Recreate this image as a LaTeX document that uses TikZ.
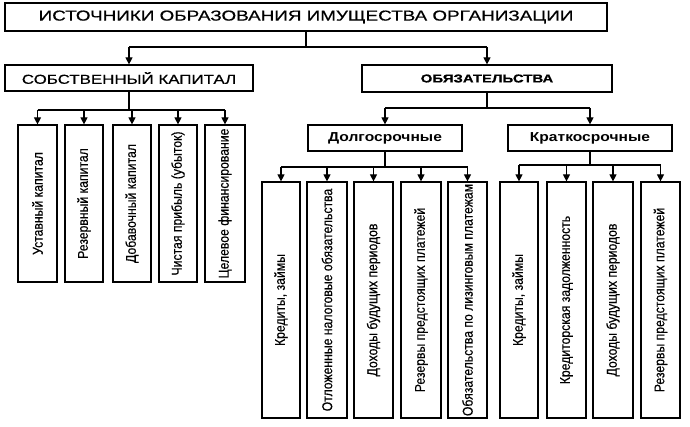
\documentclass[tikz,border=0pt]{standalone}
\usepackage{fontspec}
\setmainfont{Liberation Sans}
\newfontfamily\hdfont[FakeStretch=1.3,FakeBold=0.6]{Liberation Sans}
\newfontfamily\subfont[FakeStretch=1.2]{Liberation Sans}
\newfontfamily\narrowfont[FakeStretch=0.86,FakeBold=0.4]{Liberation Sans}
\usetikzlibrary{arrows.meta}
\begin{document}
\begin{tikzpicture}[x=1pt,y=-1pt,line width=1.2pt,
  box/.style={draw,line width=1.2pt,inner sep=0pt,align=center},
  vbox/.style={box,rotate=90,font=\narrowfont\fontsize{14.2}{16}\selectfont},
  subbox/.style={box,minimum height=26pt,font=\subfont\bfseries\fontsize{13}{15}\selectfont},
  arr/.style={-{Triangle[width=7pt,length=7pt]}}]
\useasboundingbox (0,0) rectangle (690,427);
% top level
\node[box,minimum width=602pt,minimum height=28pt,font=\hdfont\fontsize{14.5}{16}\selectfont] (title) at (306,17) {ИСТОЧНИКИ ОБРАЗОВАНИЯ ИМУЩЕСТВА ОРГАНИЗАЦИИ};
\node[box,minimum width=248pt,minimum height=26pt,font=\hdfont\fontsize{13}{15}\selectfont] (sk) at (129,78) {СОБСТВЕННЫЙ КАПИТАЛ};
\node[box,minimum width=250pt,minimum height=27pt,font=\hdfont\bfseries\fontsize{11.5}{13}\selectfont] (ob) at (487,78.5) {ОБЯЗАТЕЛЬСТВА};
\node[subbox,minimum width=154pt] (dl) at (385,138) {Долгосрочные};
\node[subbox,minimum width=164pt] (kr) at (590,138) {Краткосрочные};
% own capital children
\node[vbox,minimum width=157pt,minimum height=39pt] (s1) at (37.5,203.5) {Уставный капитал};
\node[vbox,minimum width=157pt,minimum height=38pt] (s2) at (84,203.5) {Резервный капитал};
\node[vbox,minimum width=157pt,minimum height=38pt] (s3) at (132,203.5) {Добавочный капитал};
\node[vbox,minimum width=157pt,minimum height=38pt] (s4) at (178,203.5) {Чистая прибыль (убыток)};
\node[vbox,minimum width=157pt,minimum height=40pt] (s5) at (225,203.5) {Целевое финансирование};
% long-term children
\node[vbox,minimum width=236pt,minimum height=38pt] (d1) at (281,300) {Кредиты, займы};
\node[vbox,minimum width=236pt,minimum height=40pt] (d2) at (327,300) {Отложенные налоговые обязательства};
\node[vbox,minimum width=236pt,minimum height=39pt] (d3) at (373.5,300) {Доходы будущих периодов};
\node[vbox,minimum width=236pt,minimum height=40pt] (d4) at (421,300) {Резервы предстоящих платежей};
\node[vbox,minimum width=236pt,minimum height=39pt] (d5) at (467.5,300) {Обязательства по лизинговым платежам};
% short-term children
\node[vbox,minimum width=236pt,minimum height=38pt] (k1) at (519,300) {Кредиты, займы};
\node[vbox,minimum width=236pt,minimum height=39pt] (k2) at (566.5,300) {Кредиторская задолженность};
\node[vbox,minimum width=236pt,minimum height=40pt] (k3) at (613,300) {Доходы будущих периодов};
\node[vbox,minimum width=236pt,minimum height=39pt] (k4) at (660.5,300) {Резервы предстоящих платежей};
% bus coordinates
\coordinate (bt) at (0,47);
\coordinate (bs) at (0,110);
\coordinate (bo) at (0,108);
\coordinate (bd) at (0,167);
\coordinate (bk) at (0,165);
% connectors: title
\draw (title.south) -- (title.south |- bt);
\draw (sk.north |- bt) -- (ob.north |- bt);
\draw[arr] (sk.north |- bt) -- (sk.north);
\draw[arr] (ob.north |- bt) -- (ob.north);
% own capital
\draw (sk.south) -- (sk.south |- bs);
\draw (s1.east |- bs) -- (s5.east |- bs);
\foreach \n in {s1,s2,s3,s4,s5} \draw[arr] (\n.east |- bs) -- (\n.east);
% obligations
\draw (ob.south) -- (ob.south |- bo);
\draw (dl.north |- bo) -- (kr.north |- bo);
\draw[arr] (dl.north |- bo) -- (dl.north);
\draw[arr] (kr.north |- bo) -- (kr.north);
% long-term
\draw (dl.south) -- (dl.south |- bd);
\draw (d1.east |- bd) -- (d5.east |- bd);
\foreach \n in {d1,d2,d3,d4,d5} \draw[arr] (\n.east |- bd) -- (\n.east);
% short-term
\draw (kr.south) -- (kr.south |- bk);
\draw (k1.east |- bk) -- (k4.east |- bk);
\foreach \n in {k1,k2,k3,k4} \draw[arr] (\n.east |- bk) -- (\n.east);
\end{tikzpicture}
\end{document}
